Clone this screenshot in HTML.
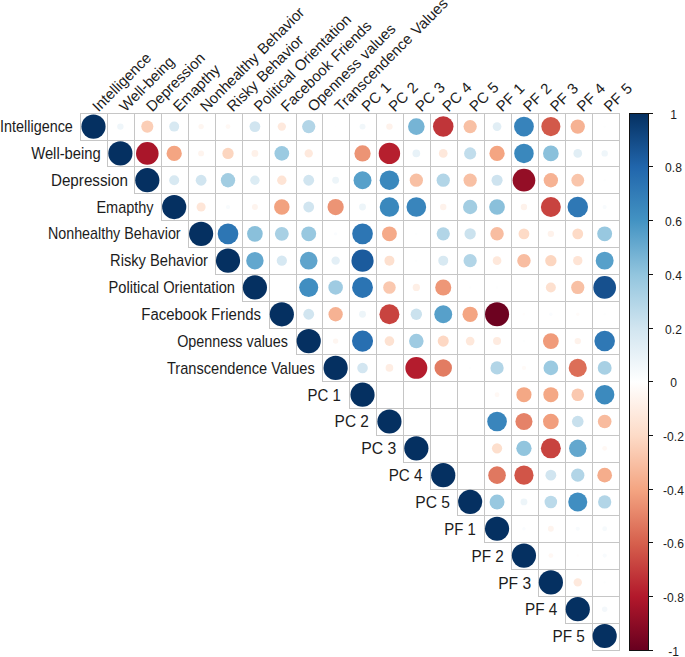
<!DOCTYPE html><html><head><meta charset="utf-8"><style>html,body{margin:0;padding:0;background:#fff;width:685px;height:657px;overflow:hidden}svg{display:block}text{font-family:"Liberation Sans",sans-serif;fill:#1c1c1c}</style></head><body>
<svg width="685" height="657" viewBox="0 0 685 657">
<defs><linearGradient id="g" x1="0" y1="0" x2="0" y2="1">
<stop offset="0.0%" stop-color="#053061"/>
<stop offset="10.0%" stop-color="#2166AC"/>
<stop offset="20.0%" stop-color="#4393C3"/>
<stop offset="30.0%" stop-color="#92C5DE"/>
<stop offset="40.0%" stop-color="#D1E5F0"/>
<stop offset="50.0%" stop-color="#FFFFFF"/>
<stop offset="60.0%" stop-color="#FDDBC7"/>
<stop offset="70.0%" stop-color="#F4A582"/>
<stop offset="80.0%" stop-color="#D6604D"/>
<stop offset="90.0%" stop-color="#B2182B"/>
<stop offset="100.0%" stop-color="#67001F"/>
</linearGradient></defs>
<path d="M80 113.5H620M80 140.5H620M107 166.5H620M134 193.5H620M161 220.5H620M188 247.5H620M215 274.5H620M242 301.5H620M269 328.5H620M296 354.5H620M322 381.5H620M349 408.5H620M376 435.5H620M403 462.5H620M430 489.5H620M457 515.5H620M484 542.5H620M511 569.5H620M538 596.5H620M565 623.5H620M592 650.5H620M80.5 113V141M107.5 113V167M134.5 113V194M161.5 113V221M188.5 113V248M215.5 113V275M242.5 113V302M269.5 113V329M296.5 113V355M322.5 113V382M349.5 113V409M376.5 113V436M403.5 113V463M430.5 113V490M457.5 113V516M484.5 113V543M511.5 113V570M538.5 113V597M565.5 113V624M592.5 113V651M619.5 113V651" stroke="#c6c6c6" stroke-width="1" fill="none" shape-rendering="crispEdges"/>
<circle cx="93.49" cy="126.60" r="12.10" fill="#053061"/>
<circle cx="120.39" cy="126.60" r="3.20" fill="#eff6fa"/>
<circle cx="147.30" cy="126.60" r="6.05" fill="#fbceb6"/>
<circle cx="174.20" cy="126.60" r="4.99" fill="#d8e9f2"/>
<circle cx="201.11" cy="126.60" r="2.71" fill="#fef6f1"/>
<circle cx="228.01" cy="126.60" r="2.42" fill="#fff8f4"/>
<circle cx="254.91" cy="126.60" r="5.41" fill="#d1e5f0"/>
<circle cx="281.82" cy="126.60" r="4.19" fill="#fee9dd"/>
<circle cx="308.72" cy="126.60" r="6.63" fill="#b2d5e7"/>
<circle cx="335.63" cy="126.60" r="0.86" fill="#fefeff"/>
<circle cx="362.53" cy="126.60" r="2.96" fill="#f1f7fa"/>
<circle cx="389.43" cy="126.60" r="3.20" fill="#fef2eb"/>
<circle cx="416.34" cy="126.60" r="8.30" fill="#76b4d5"/>
<circle cx="443.24" cy="126.60" r="10.27" fill="#c03539"/>
<circle cx="470.15" cy="126.60" r="6.63" fill="#f8c0a4"/>
<circle cx="497.05" cy="126.60" r="4.36" fill="#e1eef5"/>
<circle cx="523.95" cy="126.60" r="9.90" fill="#3783bb"/>
<circle cx="550.86" cy="126.60" r="9.53" fill="#d2594a"/>
<circle cx="577.76" cy="126.60" r="7.16" fill="#f6b293"/>
<circle cx="604.67" cy="126.60" r="1.21" fill="#fdfefe"/>
<circle cx="120.39" cy="153.41" r="12.10" fill="#053061"/>
<circle cx="147.30" cy="153.41" r="11.29" fill="#aa162a"/>
<circle cx="174.20" cy="153.41" r="7.65" fill="#f4a582"/>
<circle cx="201.11" cy="153.41" r="2.96" fill="#fef4ee"/>
<circle cx="228.01" cy="153.41" r="5.68" fill="#fcd6c0"/>
<circle cx="254.91" cy="153.41" r="3.42" fill="#fef1e9"/>
<circle cx="281.82" cy="153.41" r="7.36" fill="#9bcae1"/>
<circle cx="308.72" cy="153.41" r="4.19" fill="#fee9dd"/>
<circle cx="335.63" cy="153.41" r="0.86" fill="#fefeff"/>
<circle cx="362.53" cy="153.41" r="8.12" fill="#ec9475"/>
<circle cx="389.43" cy="153.41" r="10.69" fill="#b61f2e"/>
<circle cx="416.34" cy="153.41" r="3.83" fill="#e8f2f8"/>
<circle cx="443.24" cy="153.41" r="4.36" fill="#fee8db"/>
<circle cx="470.15" cy="153.41" r="6.05" fill="#c1ddec"/>
<circle cx="497.05" cy="153.41" r="7.65" fill="#f4a582"/>
<circle cx="523.95" cy="153.41" r="9.76" fill="#3a88bd"/>
<circle cx="550.86" cy="153.41" r="7.84" fill="#8ac0db"/>
<circle cx="577.76" cy="153.41" r="4.36" fill="#e1eef5"/>
<circle cx="604.67" cy="153.41" r="3.20" fill="#eff6fa"/>
<circle cx="147.30" cy="180.22" r="12.10" fill="#053061"/>
<circle cx="174.20" cy="180.22" r="4.99" fill="#d8e9f2"/>
<circle cx="201.11" cy="180.22" r="5.41" fill="#d1e5f0"/>
<circle cx="228.01" cy="180.22" r="7.16" fill="#a2cde2"/>
<circle cx="254.91" cy="180.22" r="4.69" fill="#dcecf4"/>
<circle cx="281.82" cy="180.22" r="4.69" fill="#fee4d5"/>
<circle cx="308.72" cy="180.22" r="5.41" fill="#d1e5f0"/>
<circle cx="335.63" cy="180.22" r="3.42" fill="#edf5f9"/>
<circle cx="362.53" cy="180.22" r="8.97" fill="#57a0ca"/>
<circle cx="389.43" cy="180.22" r="9.76" fill="#3a88bd"/>
<circle cx="416.34" cy="180.22" r="6.63" fill="#f8c0a4"/>
<circle cx="443.24" cy="180.22" r="6.63" fill="#b2d5e7"/>
<circle cx="470.15" cy="180.22" r="6.63" fill="#f8c0a4"/>
<circle cx="497.05" cy="180.22" r="5.54" fill="#cee3ef"/>
<circle cx="523.95" cy="180.22" r="11.35" fill="#940e26"/>
<circle cx="550.86" cy="180.22" r="7.16" fill="#f6b293"/>
<circle cx="577.76" cy="180.22" r="6.40" fill="#f9c5ab"/>
<circle cx="604.67" cy="180.22" r="1.21" fill="#fdfefe"/>
<circle cx="174.20" cy="207.03" r="12.10" fill="#053061"/>
<circle cx="201.11" cy="207.03" r="4.53" fill="#fee6d8"/>
<circle cx="228.01" cy="207.03" r="2.10" fill="#f8fbfd"/>
<circle cx="254.91" cy="207.03" r="2.96" fill="#fef4ee"/>
<circle cx="281.82" cy="207.03" r="7.75" fill="#f2a27f"/>
<circle cx="308.72" cy="207.03" r="5.41" fill="#d1e5f0"/>
<circle cx="335.63" cy="207.03" r="8.12" fill="#ec9475"/>
<circle cx="362.53" cy="207.03" r="3.42" fill="#edf5f9"/>
<circle cx="389.43" cy="207.03" r="9.76" fill="#3a88bd"/>
<circle cx="416.34" cy="207.03" r="9.83" fill="#3985bc"/>
<circle cx="443.24" cy="207.03" r="3.20" fill="#fef2eb"/>
<circle cx="470.15" cy="207.03" r="7.16" fill="#a2cde2"/>
<circle cx="497.05" cy="207.03" r="7.84" fill="#8ac0db"/>
<circle cx="523.95" cy="207.03" r="3.20" fill="#fef2eb"/>
<circle cx="550.86" cy="207.03" r="9.98" fill="#c8433f"/>
<circle cx="577.76" cy="207.03" r="10.27" fill="#2f78b5"/>
<circle cx="604.67" cy="207.03" r="2.10" fill="#f8fbfd"/>
<circle cx="201.11" cy="233.84" r="12.10" fill="#053061"/>
<circle cx="228.01" cy="233.84" r="10.34" fill="#2d76b4"/>
<circle cx="254.91" cy="233.84" r="7.84" fill="#8ac0db"/>
<circle cx="281.82" cy="233.84" r="6.95" fill="#a8d0e4"/>
<circle cx="308.72" cy="233.84" r="7.46" fill="#98c8e0"/>
<circle cx="335.63" cy="233.84" r="1.71" fill="#fafcfe"/>
<circle cx="362.53" cy="233.84" r="10.34" fill="#2d76b4"/>
<circle cx="389.43" cy="233.84" r="7.46" fill="#f5aa89"/>
<circle cx="416.34" cy="233.84" r="1.21" fill="#fdfefe"/>
<circle cx="443.24" cy="233.84" r="6.63" fill="#b2d5e7"/>
<circle cx="470.15" cy="233.84" r="5.68" fill="#cbe2ee"/>
<circle cx="497.05" cy="233.84" r="6.74" fill="#f8bda1"/>
<circle cx="523.95" cy="233.84" r="5.41" fill="#fddbc7"/>
<circle cx="550.86" cy="233.84" r="3.20" fill="#fef2eb"/>
<circle cx="577.76" cy="233.84" r="5.41" fill="#fddbc7"/>
<circle cx="604.67" cy="233.84" r="7.46" fill="#98c8e0"/>
<circle cx="228.01" cy="260.65" r="12.10" fill="#053061"/>
<circle cx="254.91" cy="260.65" r="8.73" fill="#63a7ce"/>
<circle cx="281.82" cy="260.65" r="5.13" fill="#d6e8f2"/>
<circle cx="308.72" cy="260.65" r="8.81" fill="#5fa4cc"/>
<circle cx="335.63" cy="260.65" r="4.19" fill="#e3eff6"/>
<circle cx="362.53" cy="260.65" r="11.09" fill="#1b5b9d"/>
<circle cx="389.43" cy="260.65" r="4.99" fill="#fde0cf"/>
<circle cx="416.34" cy="260.65" r="1.21" fill="#fdfefe"/>
<circle cx="443.24" cy="260.65" r="4.99" fill="#d8e9f2"/>
<circle cx="470.15" cy="260.65" r="6.63" fill="#b2d5e7"/>
<circle cx="497.05" cy="260.65" r="4.36" fill="#fee8db"/>
<circle cx="523.95" cy="260.65" r="6.74" fill="#f8bda1"/>
<circle cx="550.86" cy="260.65" r="5.68" fill="#fcd6c0"/>
<circle cx="577.76" cy="260.65" r="4.69" fill="#fee4d5"/>
<circle cx="604.67" cy="260.65" r="8.97" fill="#57a0ca"/>
<circle cx="254.91" cy="287.47" r="12.10" fill="#053061"/>
<circle cx="308.72" cy="287.47" r="9.53" fill="#408ec1"/>
<circle cx="335.63" cy="287.47" r="7.26" fill="#9fcbe2"/>
<circle cx="362.53" cy="287.47" r="10.41" fill="#2b74b3"/>
<circle cx="389.43" cy="287.47" r="6.29" fill="#fac8af"/>
<circle cx="416.34" cy="287.47" r="3.63" fill="#feefe6"/>
<circle cx="443.24" cy="287.47" r="8.03" fill="#ee9777"/>
<circle cx="470.15" cy="287.47" r="1.21" fill="#fdfefe"/>
<circle cx="497.05" cy="287.47" r="1.21" fill="#fdfefe"/>
<circle cx="550.86" cy="287.47" r="4.99" fill="#fde0cf"/>
<circle cx="577.76" cy="287.47" r="6.63" fill="#f8c0a4"/>
<circle cx="604.67" cy="287.47" r="11.35" fill="#16508e"/>
<circle cx="281.82" cy="314.28" r="12.10" fill="#053061"/>
<circle cx="308.72" cy="314.28" r="5.41" fill="#d1e5f0"/>
<circle cx="335.63" cy="314.28" r="7.16" fill="#f6b293"/>
<circle cx="362.53" cy="314.28" r="3.42" fill="#edf5f9"/>
<circle cx="389.43" cy="314.28" r="9.98" fill="#c8433f"/>
<circle cx="416.34" cy="314.28" r="5.68" fill="#cbe2ee"/>
<circle cx="443.24" cy="314.28" r="8.97" fill="#57a0ca"/>
<circle cx="470.15" cy="314.28" r="7.65" fill="#f4a582"/>
<circle cx="497.05" cy="314.28" r="12.01" fill="#6d0220"/>
<circle cx="523.95" cy="314.28" r="1.21" fill="#fffdfc"/>
<circle cx="550.86" cy="314.28" r="1.71" fill="#fafcfe"/>
<circle cx="577.76" cy="314.28" r="1.71" fill="#fffbf9"/>
<circle cx="604.67" cy="314.28" r="1.21" fill="#fdfefe"/>
<circle cx="308.72" cy="341.09" r="12.10" fill="#053061"/>
<circle cx="335.63" cy="341.09" r="2.71" fill="#fef6f1"/>
<circle cx="362.53" cy="341.09" r="10.55" fill="#286fb1"/>
<circle cx="389.43" cy="341.09" r="4.84" fill="#fde2d2"/>
<circle cx="416.34" cy="341.09" r="7.26" fill="#9fcbe2"/>
<circle cx="443.24" cy="341.09" r="5.54" fill="#fdd8c4"/>
<circle cx="470.15" cy="341.09" r="4.36" fill="#fee8db"/>
<circle cx="497.05" cy="341.09" r="4.01" fill="#feebe0"/>
<circle cx="523.95" cy="341.09" r="1.21" fill="#fdfefe"/>
<circle cx="550.86" cy="341.09" r="7.93" fill="#f09b7a"/>
<circle cx="577.76" cy="341.09" r="3.20" fill="#fef2eb"/>
<circle cx="604.67" cy="341.09" r="10.27" fill="#2f78b5"/>
<circle cx="335.63" cy="367.90" r="12.10" fill="#053061"/>
<circle cx="362.53" cy="367.90" r="5.27" fill="#d3e6f1"/>
<circle cx="389.43" cy="367.90" r="3.83" fill="#feede3"/>
<circle cx="416.34" cy="367.90" r="10.96" fill="#b41c2d"/>
<circle cx="443.24" cy="367.90" r="8.73" fill="#e27c62"/>
<circle cx="470.15" cy="367.90" r="1.21" fill="#fdfefe"/>
<circle cx="497.05" cy="367.90" r="6.63" fill="#b2d5e7"/>
<circle cx="523.95" cy="367.90" r="2.10" fill="#fffaf7"/>
<circle cx="550.86" cy="367.90" r="7.36" fill="#9bcae1"/>
<circle cx="577.76" cy="367.90" r="9.05" fill="#dc6e58"/>
<circle cx="604.67" cy="367.90" r="6.95" fill="#a8d0e4"/>
<circle cx="362.53" cy="394.71" r="12.10" fill="#053061"/>
<circle cx="497.05" cy="394.71" r="2.42" fill="#fff8f4"/>
<circle cx="523.95" cy="394.71" r="7.56" fill="#f4a885"/>
<circle cx="550.86" cy="394.71" r="7.56" fill="#f4a885"/>
<circle cx="577.76" cy="394.71" r="6.29" fill="#fac8af"/>
<circle cx="604.67" cy="394.71" r="9.68" fill="#3c8abe"/>
<circle cx="389.43" cy="421.52" r="12.10" fill="#053061"/>
<circle cx="497.05" cy="421.52" r="9.83" fill="#3985bc"/>
<circle cx="523.95" cy="421.52" r="8.56" fill="#e58268"/>
<circle cx="550.86" cy="421.52" r="7.84" fill="#f19e7d"/>
<circle cx="577.76" cy="421.52" r="5.80" fill="#c8e0ed"/>
<circle cx="604.67" cy="421.52" r="6.84" fill="#f8bb9e"/>
<circle cx="416.34" cy="448.33" r="12.10" fill="#053061"/>
<circle cx="497.05" cy="448.33" r="5.13" fill="#fddfcd"/>
<circle cx="523.95" cy="448.33" r="7.65" fill="#92c5de"/>
<circle cx="550.86" cy="448.33" r="9.98" fill="#c8433f"/>
<circle cx="577.76" cy="448.33" r="8.73" fill="#63a7ce"/>
<circle cx="604.67" cy="448.33" r="2.42" fill="#fff8f4"/>
<circle cx="443.24" cy="475.14" r="12.10" fill="#053061"/>
<circle cx="497.05" cy="475.14" r="8.81" fill="#e07860"/>
<circle cx="523.95" cy="475.14" r="9.60" fill="#d15548"/>
<circle cx="550.86" cy="475.14" r="5.41" fill="#d1e5f0"/>
<circle cx="577.76" cy="475.14" r="6.63" fill="#b2d5e7"/>
<circle cx="604.67" cy="475.14" r="7.36" fill="#f5ad8c"/>
<circle cx="470.15" cy="501.95" r="12.10" fill="#053061"/>
<circle cx="497.05" cy="501.95" r="7.46" fill="#98c8e0"/>
<circle cx="523.95" cy="501.95" r="3.42" fill="#edf5f9"/>
<circle cx="550.86" cy="501.95" r="6.29" fill="#bbdaea"/>
<circle cx="577.76" cy="501.95" r="9.53" fill="#408ec1"/>
<circle cx="604.67" cy="501.95" r="6.63" fill="#b2d5e7"/>
<circle cx="497.05" cy="528.76" r="12.10" fill="#053061"/>
<circle cx="523.95" cy="528.76" r="1.71" fill="#fafcfe"/>
<circle cx="550.86" cy="528.76" r="2.96" fill="#fef4ee"/>
<circle cx="577.76" cy="528.76" r="2.10" fill="#f8fbfd"/>
<circle cx="604.67" cy="528.76" r="2.42" fill="#f6fafc"/>
<circle cx="523.95" cy="555.58" r="12.10" fill="#053061"/>
<circle cx="550.86" cy="555.58" r="2.42" fill="#fff8f4"/>
<circle cx="577.76" cy="555.58" r="1.21" fill="#fffdfc"/>
<circle cx="604.67" cy="555.58" r="2.10" fill="#f8fbfd"/>
<circle cx="550.86" cy="582.39" r="12.10" fill="#053061"/>
<circle cx="577.76" cy="582.39" r="4.19" fill="#fee9dd"/>
<circle cx="604.67" cy="582.39" r="1.21" fill="#fdfefe"/>
<circle cx="577.76" cy="609.20" r="12.10" fill="#053061"/>
<circle cx="604.67" cy="609.20" r="2.71" fill="#f4f8fb"/>
<circle cx="604.67" cy="636.01" r="12.10" fill="#053061"/>
<text x="0" y="0" font-size="16" text-anchor="end" transform="translate(72.83 132.01) scale(0.8990 1)">Intelligence</text>
<text x="0" y="0" font-size="16" text-anchor="end" transform="translate(100.72 158.86) scale(0.9236 1)">Well-being</text>
<text x="0" y="0" font-size="16" text-anchor="end" transform="translate(127.86 185.71) scale(0.9508 1)">Depression</text>
<text x="0" y="0" font-size="16" text-anchor="end" transform="translate(153.55 212.57) scale(0.9057 1)">Emapthy</text>
<text x="0" y="0" font-size="16" text-anchor="end" transform="translate(180.61 239.42) scale(0.8942 1)">Nonhealthy Behavior</text>
<text x="0" y="0" font-size="16" text-anchor="end" transform="translate(207.93 266.27) scale(0.9180 1)">Risky Behavior</text>
<text x="0" y="0" font-size="16" text-anchor="end" transform="translate(234.97 293.12) scale(0.9174 1)">Political Orientation</text>
<text x="0" y="0" font-size="16" text-anchor="end" transform="translate(261.01 319.98) scale(0.9355 1)">Facebook Friends</text>
<text x="0" y="0" font-size="16" text-anchor="end" transform="translate(287.97 346.83) scale(0.8972 1)">Openness values</text>
<text x="0" y="0" font-size="16" text-anchor="end" transform="translate(314.77 373.68) scale(0.9142 1)">Transcendence Values</text>
<text x="0" y="0" font-size="16" text-anchor="end" transform="translate(340.80 400.54) scale(0.9367 1)">PC 1</text>
<text x="0" y="0" font-size="16" text-anchor="end" transform="translate(368.89 427.39) scale(0.9639 1)">PC 2</text>
<text x="0" y="0" font-size="16" text-anchor="end" transform="translate(396.21 454.24) scale(0.9874 1)">PC 3</text>
<text x="0" y="0" font-size="16" text-anchor="end" transform="translate(422.50 481.10) scale(0.9508 1)">PC 4</text>
<text x="0" y="0" font-size="16" text-anchor="end" transform="translate(449.99 507.95) scale(0.9763 1)">PC 5</text>
<text x="0" y="0" font-size="16" text-anchor="end" transform="translate(475.77 534.80) scale(0.9345 1)">PF 1</text>
<text x="0" y="0" font-size="16" text-anchor="end" transform="translate(503.85 561.65) scale(0.9586 1)">PF 2</text>
<text x="0" y="0" font-size="16" text-anchor="end" transform="translate(531.08 588.51) scale(0.9738 1)">PF 3</text>
<text x="0" y="0" font-size="16" text-anchor="end" transform="translate(557.32 615.36) scale(0.9568 1)">PF 4</text>
<text x="0" y="0" font-size="16" text-anchor="end" transform="translate(584.86 642.21) scale(0.9607 1)">PF 5</text>
<text x="0" y="0" font-size="15" word-spacing="1" transform="translate(98.51 112.58) rotate(-45)">Intelligence</text>
<text x="0" y="0" font-size="15" word-spacing="1" transform="translate(125.43 112.58) rotate(-45)">Well-being</text>
<text x="0" y="0" font-size="15" word-spacing="1" transform="translate(152.35 112.58) rotate(-45)">Depression</text>
<text x="0" y="0" font-size="15" word-spacing="1" transform="translate(179.27 112.58) rotate(-45)">Emapthy</text>
<text x="0" y="0" font-size="15" word-spacing="1" transform="translate(206.19 112.58) rotate(-45)">Nonhealthy Behavior</text>
<text x="0" y="0" font-size="15" word-spacing="1" transform="translate(233.11 112.58) rotate(-45)">Risky Behavior</text>
<text x="0" y="0" font-size="15" word-spacing="1" transform="translate(260.03 112.58) rotate(-45)">Political Orientation</text>
<text x="0" y="0" font-size="15" word-spacing="1" transform="translate(286.95 112.58) rotate(-45)">Facebook Friends</text>
<text x="0" y="0" font-size="15" word-spacing="1" transform="translate(313.87 112.58) rotate(-45)">Openness values</text>
<text x="0" y="0" font-size="15" word-spacing="1" transform="translate(340.79 112.58) rotate(-45)">Transcendence Values</text>
<text x="0" y="0" font-size="15" word-spacing="1" transform="translate(367.71 112.58) rotate(-45)">PC 1</text>
<text x="0" y="0" font-size="15" word-spacing="1" transform="translate(394.63 112.58) rotate(-45)">PC 2</text>
<text x="0" y="0" font-size="15" word-spacing="1" transform="translate(421.55 112.58) rotate(-45)">PC 3</text>
<text x="0" y="0" font-size="15" word-spacing="1" transform="translate(448.47 112.58) rotate(-45)">PC 4</text>
<text x="0" y="0" font-size="15" word-spacing="1" transform="translate(475.39 112.58) rotate(-45)">PC 5</text>
<text x="0" y="0" font-size="15" word-spacing="1" transform="translate(502.31 112.58) rotate(-45)">PF 1</text>
<text x="0" y="0" font-size="15" word-spacing="1" transform="translate(529.23 112.58) rotate(-45)">PF 2</text>
<text x="0" y="0" font-size="15" word-spacing="1" transform="translate(556.15 112.58) rotate(-45)">PF 3</text>
<text x="0" y="0" font-size="15" word-spacing="1" transform="translate(583.07 112.58) rotate(-45)">PF 4</text>
<text x="0" y="0" font-size="15" word-spacing="1" transform="translate(609.99 112.58) rotate(-45)">PF 5</text>
<rect x="629.50" y="113.50" width="19.00" height="537.00" fill="url(#g)" stroke="#111" stroke-width="1" shape-rendering="crispEdges"/>
<path d="M648.50 113.5H653.30" stroke="#111" stroke-width="1" shape-rendering="crispEdges"/>
<text x="0" y="0" font-size="13" text-anchor="middle" transform="translate(673.5 118.70) scale(0.93 1)">1</text>
<path d="M648.50 166.5H653.30" stroke="#111" stroke-width="1" shape-rendering="crispEdges"/>
<text x="0" y="0" font-size="13" text-anchor="middle" transform="translate(673.5 172.40) scale(0.93 1)">0.8</text>
<path d="M648.50 220.5H653.30" stroke="#111" stroke-width="1" shape-rendering="crispEdges"/>
<text x="0" y="0" font-size="13" text-anchor="middle" transform="translate(673.5 226.10) scale(0.93 1)">0.6</text>
<path d="M648.50 274.5H653.30" stroke="#111" stroke-width="1" shape-rendering="crispEdges"/>
<text x="0" y="0" font-size="13" text-anchor="middle" transform="translate(673.5 279.80) scale(0.93 1)">0.4</text>
<path d="M648.50 328.5H653.30" stroke="#111" stroke-width="1" shape-rendering="crispEdges"/>
<text x="0" y="0" font-size="13" text-anchor="middle" transform="translate(673.5 333.50) scale(0.93 1)">0.2</text>
<path d="M648.50 381.5H653.30" stroke="#111" stroke-width="1" shape-rendering="crispEdges"/>
<text x="0" y="0" font-size="13" text-anchor="middle" transform="translate(673.5 387.20) scale(0.93 1)">0</text>
<path d="M648.50 435.5H653.30" stroke="#111" stroke-width="1" shape-rendering="crispEdges"/>
<text x="0" y="0" font-size="13" text-anchor="middle" transform="translate(673.5 440.90) scale(0.93 1)">-0.2</text>
<path d="M648.50 489.5H653.30" stroke="#111" stroke-width="1" shape-rendering="crispEdges"/>
<text x="0" y="0" font-size="13" text-anchor="middle" transform="translate(673.5 494.60) scale(0.93 1)">-0.4</text>
<path d="M648.50 542.5H653.30" stroke="#111" stroke-width="1" shape-rendering="crispEdges"/>
<text x="0" y="0" font-size="13" text-anchor="middle" transform="translate(673.5 548.30) scale(0.93 1)">-0.6</text>
<path d="M648.50 596.5H653.30" stroke="#111" stroke-width="1" shape-rendering="crispEdges"/>
<text x="0" y="0" font-size="13" text-anchor="middle" transform="translate(673.5 602.00) scale(0.93 1)">-0.8</text>
<path d="M648.50 650.5H653.30" stroke="#111" stroke-width="1" shape-rendering="crispEdges"/>
<text x="0" y="0" font-size="13" text-anchor="middle" transform="translate(673.5 655.70) scale(0.93 1)">-1</text>
</svg></body></html>
